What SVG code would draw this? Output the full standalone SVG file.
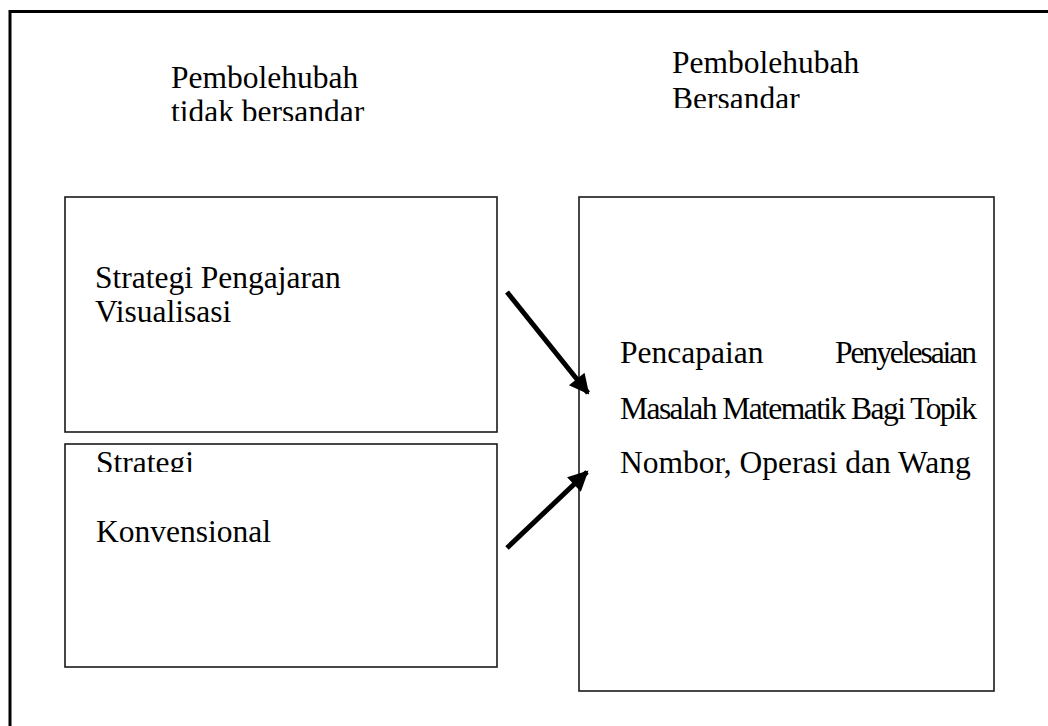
<svg xmlns="http://www.w3.org/2000/svg" width="1048" height="726" viewBox="0 0 1048 726">
<style>
.t{font-family:"Liberation Serif","Times New Roman",serif;font-size:31.5px;fill:#000}
.box{fill:#fff;stroke:#1a1a1a;stroke-width:1.6}
.arr{stroke:#000;stroke-width:5;fill:none}
</style>
<defs>
<marker id="ah" viewBox="0 0 10 10" refX="9" refY="5" markerWidth="4.4" markerHeight="4" orient="auto" markerUnits="strokeWidth">
<path d="M0,0 L10,5 L0,10 z" fill="#000"/>
</marker>
<clipPath id="c1"><rect x="0" y="0" width="1048" height="121"/></clipPath>
<clipPath id="c2"><rect x="0" y="0" width="1048" height="108"/></clipPath>
<clipPath id="c3"><rect x="0" y="444" width="1048" height="28"/></clipPath>
</defs>
<rect x="0" y="0" width="1048" height="726" fill="#fff"/>
<rect x="10" y="11.5" width="1200" height="900" fill="none" stroke="#000" stroke-width="3"/>
<g id="label-left">
<text class="t" x="171" y="88">Pembolehubah</text>
<text class="t" x="171" y="122" clip-path="url(#c1)">tidak bersandar</text>
</g>
<g id="label-right">
<text class="t" x="672" y="73">Pembolehubah</text>
<text class="t" x="672" y="109" clip-path="url(#c2)">Bersandar</text>
</g>
<g id="node-visualisasi">
<rect class="box" x="65" y="197" width="432" height="235"/>
<text class="t" x="95" y="288">Strategi Pengajaran</text>
<text class="t" x="95" y="322">Visualisasi</text>
</g>
<g id="node-konvensional">
<rect class="box" x="65" y="444" width="432" height="223"/>
<text class="t" x="96" y="473" clip-path="url(#c3)">Strategi</text>
<text class="t" x="96" y="542">Konvensional</text>
</g>
<g id="node-pencapaian">
<rect class="box" x="579" y="197" width="415" height="494"/>
<text class="t" x="620" y="363">Pencapaian</text>
<text class="t" x="835" y="363" textLength="142" lengthAdjust="spacing">Penyelesaian</text>
<text class="t" x="620" y="419" textLength="357" lengthAdjust="spacing">Masalah Matematik Bagi Topik</text>
<text class="t" x="620" y="473">Nombor, Operasi dan Wang</text>
</g>
<g id="connectors">
<line class="arr" x1="507" y1="292" x2="588" y2="393" marker-end="url(#ah)"/>
<line class="arr" x1="507" y1="548" x2="587" y2="472" marker-end="url(#ah)"/>
</g>
</svg>
